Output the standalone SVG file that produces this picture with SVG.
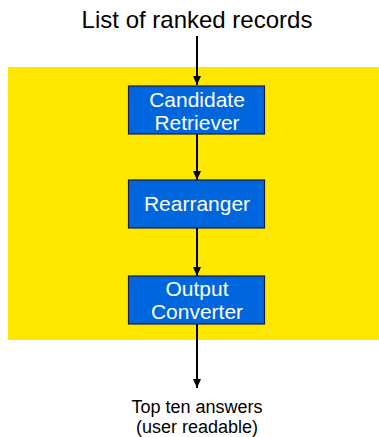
<svg xmlns="http://www.w3.org/2000/svg" width="379" height="437" viewBox="0 0 379 437">
<defs>
<marker id="ah" markerWidth="9" markerHeight="8" refX="9" refY="4" orient="auto" markerUnits="userSpaceOnUse">
<path d="M0,0 L9,4 L0,8 Z" fill="#000"/>
</marker>
<style>
.box{fill:#0066DD;stroke:#1a1a40;stroke-width:1.2}
.bt{font-family:"Liberation Sans",Arial,sans-serif;font-size:21px;fill:#fff;text-anchor:middle}
.lbl{font-family:"Liberation Sans",Arial,sans-serif;fill:#000;text-anchor:middle}
.con{stroke:#000;stroke-width:2;fill:none;marker-end:url(#ah)}
</style>
</defs>
<rect x="8" y="67" width="371" height="273" fill="#FFE800"/>
<text class="lbl" x="197" y="28" font-size="24">List of ranked records</text>
<g id="connectors">
<line class="con" x1="197" y1="36" x2="197" y2="85"/>
<line class="con" x1="197" y1="134" x2="197" y2="180"/>
<line class="con" x1="197" y1="228" x2="197" y2="276"/>
<line class="con" x1="197" y1="324" x2="197" y2="388"/>
</g>
<g id="candidate">
<rect class="box" x="128.5" y="86" width="136" height="48"/>
<text class="bt" x="197" y="107">Candidate</text>
<text class="bt" x="197" y="129.5">Retriever</text>
</g>
<g id="rearranger">
<rect class="box" x="128.5" y="180" width="136" height="48"/>
<text class="bt" x="197" y="211">Rearranger</text>
</g>
<g id="output">
<rect class="box" x="128.5" y="276" width="136" height="48"/>
<text class="bt" x="197" y="296">Output</text>
<text class="bt" x="197" y="318.5">Converter</text>
</g>
<g id="result">
<text class="lbl" x="197" y="413" font-size="18">Top ten answers</text>
<text class="lbl" x="197" y="433" font-size="18">(user readable)</text>
</g>
</svg>
